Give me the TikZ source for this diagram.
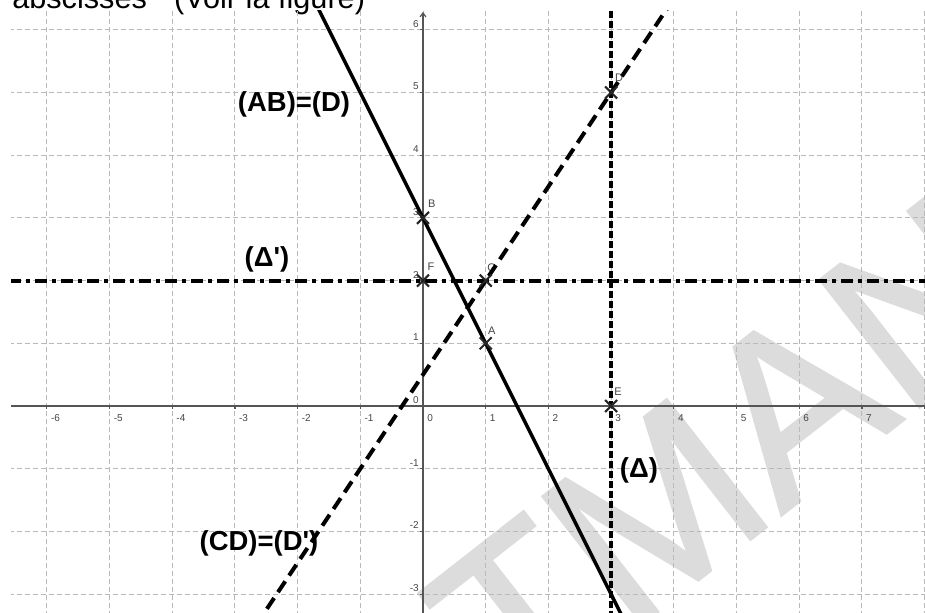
\documentclass[tikz,border=0pt]{standalone}
\usepackage{fontspec}
\setmainfont{Liberation Sans}
\newfontfamily\wmfont[FakeBold=1.3]{Liberation Sans}
\usetikzlibrary{arrows.meta,shapes.misc}
\definecolor{gridgray}{RGB}{185,185,185}
\definecolor{axisgray}{RGB}{85,85,85}
\definecolor{labgray}{RGB}{70,70,70}
\definecolor{wmgray}{RGB}{220,220,220}
\begin{document}
\begin{tikzpicture}[x=0.75pt,y=-0.75pt,
  gridline/.style={draw=gridgray, line width=0.75pt, dash pattern=on 3.75pt off 2.25pt},
  axisline/.style={draw=axisgray, line width=0.9pt},
  ticklab/.style={text=labgray, inner sep=0pt, font=\fontsize{7.5pt}{8pt}\selectfont},
  ptlab/.style={text=labgray, inner sep=0pt, font=\fontsize{8.25pt}{9pt}\selectfont},
  biglab/.style={inner sep=0pt, font=\bfseries\fontsize{20.6pt}{22pt}\selectfont},
  ptcross/.style={cross out, draw=black!85, line width=1.5pt, minimum size=7.5pt, inner sep=0pt},
  solidline/.style={draw=black, line width=2.6pt},
  dashline/.style={draw=black, line width=3pt, dash pattern=on 9.75pt off 5.25pt},
  dotline/.style={draw=black, line width=3.2pt, dash pattern=on 5.25pt off 2.25pt},
  dashdotline/.style={draw=black, line width=3pt, dash pattern=on 9pt off 3.75pt on 3pt off 3.75pt},
  wm/.style={text=wmgray, inner sep=0pt, rotate=38, anchor=base west, font=\wmfont\fontsize{176pt}{176pt}\selectfont}]
\useasboundingbox (0,0) rectangle (925,613);
\clip (0,0) rectangle (925,613);
\fill[white] (0,0) rectangle (925,613);
% partial title line at the top
\node[anchor=base west, inner sep=0pt, font=\fontsize{23pt}{24pt}\selectfont] (title) at (12,8.5) {abscisses"\ \ (Voir la figure)};
% watermark
\node[wm] (wm) at (514,724) {TMAN};
\begin{scope}
\clip (11,11) rectangle (925,613);
\begin{scope}[shift={(317.25pt,-304.5pt)}, x=47.025pt, y=47.025pt]
  % grid
  \foreach \i in {-6,...,8} \draw[gridline] (\i,6.3) -- (\i,-3.5);
  \foreach \j in {-3,...,6} \draw[gridline] (-6.6,\j) -- (8.1,\j);
  % axes
  \coordinate (xl) at (-6.6,0); \coordinate (xr) at (8.1,0);
  \coordinate (yb) at (0,-3.5); \coordinate (yt) at (0,6.285);
  \draw[axisline] (xl) -- (xr);
  \draw[axisline,-{Straight Barb[length=3pt,width=4.5pt]}] (yb) -- (yt);
  \foreach \i in {-6,...,8} \draw[axisline] (\i,0) -- ++(0,-0.05);
  \foreach \j in {-3,...,6} \draw[axisline] (0,\j) -- ++(-0.05,0);
  \foreach \i in {-6,...,7} \node[ticklab, anchor=west] at ([xshift=3pt,yshift=-9pt]\i,0) {\i};
  \foreach \j in {-3,...,6} \node[ticklab, anchor=east] at ([xshift=-3pt,yshift=4.5pt]0,\j) {\j};
  % big labels
  \node[biglab] (labAB) at (-2.057,4.817) {(AB)=(D)};
  \node[biglab] (labDp) at (-2.488,2.344) {(Δ\textquotesingle)};
  \node[biglab] (labCD) at (-2.616,-2.185) {(CD)=(D\textquotesingle)};
  \node[biglab] (labD) at (3.445,-1.021) {(Δ)};
  % points
  \coordinate (A) at (1,1); \coordinate (B) at (0,3); \coordinate (F) at (0,2);
  \coordinate (G) at (1,2); \coordinate (D) at (3,5); \coordinate (E) at (3,0);
  \node[ptlab] at ([xshift=4.5pt,yshift=9.75pt]A) {A};
  \node[ptlab] at ([xshift=6.5pt,yshift=10.5pt]B) {B};
  \node[ptlab] at ([xshift=6pt,yshift=10.5pt]F) {F};
  \node[ptlab] at ([xshift=4.5pt,yshift=9.75pt]G) {G};
  \node[ptlab] at ([xshift=6pt,yshift=11pt]D) {D};
  \node[ptlab] at ([xshift=5.25pt,yshift=10.5pt]E) {E};
  % lines
  \coordinate (ABtop) at (-1.75,6.5); \coordinate (ABbot) at (3.25,-3.5);
  \coordinate (CDtop) at (4,6.5); \coordinate (CDbot) at (-2.6667,-3.5);
  \coordinate (Dltop) at (3,6.3); \coordinate (Dlbot) at (3,-3.5);
  \coordinate (Dpl) at (-6.6,2); \coordinate (Dpr) at (8.1,2);
  \draw[solidline] (ABtop) -- (B) -- (A) -- (ABbot);
  \draw[dashline] (CDbot) -- (CDtop);
  \draw[dotline] (Dltop) -- (Dlbot);
  \draw[dashdotline] (Dpl) -- (Dpr);
  % point markers
  \foreach \p in {A,B,F,G,D,E} \node[ptcross] (m\p) at (\p) {};
\end{scope}
\end{scope}
\end{tikzpicture}
\end{document}
